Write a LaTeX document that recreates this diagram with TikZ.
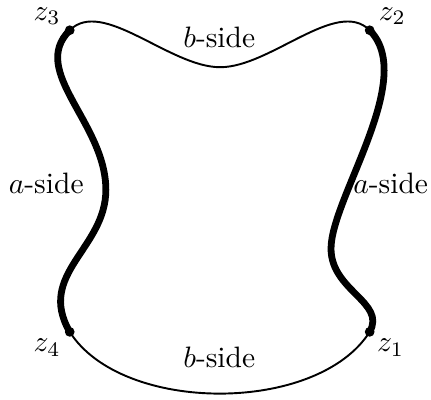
\documentclass[tikz,border=0pt]{standalone}
\begin{document}
\begin{tikzpicture}[aside/.style={line width=2.3pt, line cap=round}, bside/.style={line width=0.65pt}, corner/.style={circle, fill, inner sep=0pt, minimum size=3.3pt}, lbl/.style={inner sep=1pt}]

		\useasboundingbox (0, 0) rectangle (5.13, 4.76);

		\node[corner] (z1) at (4.40, 0.81) {};
		\node[corner] (z2) at (4.40, 4.40) {};
		\node[corner] (z3) at (0.83, 4.40) {};
		\node[corner] (z4) at (0.83, 0.81) {};

		\coordinate (top) at (2.62, 3.96);
		\coordinate (left) at (1.26, 2.50);
		\coordinate (right) at (3.94, 1.80);

		\node[lbl] (l1) at (4.65, 0.62) {$z_1$};
		\node[lbl] (l2) at (4.67, 4.57) {$z_2$};
		\node[lbl] (l3) at (0.56, 4.57) {$z_3$};
		\node[lbl] (l4) at (0.56, 0.62) {$z_4$};

		\node (btop) at (2.61, 4.32) {$b$-side};
		\node (bbot) at (2.61, 0.51) {$b$-side};
		\node (aleft) at (0.55, 2.58) {$a$-side};
		\node (aright) at (4.65, 2.58) {$a$-side};

		\draw[bside] (z3.center) .. controls (1.22, 4.79) and (2.02, 3.96) .. (top) .. controls (3.22, 3.96) and (4.01, 4.79) .. (z2.center);

		\draw[bside] (z4.center) .. controls (1.45, -0.17) and (3.78, -0.17) .. (z1.center);

		\draw[aside] (z3.center) .. controls (0.34, 3.91) and (1.26, 3.30) .. (left) .. controls (1.26, 1.80) and (0.43, 1.50) .. (z4.center);

		\draw[aside] (z2.center) .. controls (4.97, 3.83) and (3.94, 2.40) .. (right) .. controls (3.94, 1.30) and (4.60, 1.16) .. (z1.center);

	\end{tikzpicture}
\end{document}
